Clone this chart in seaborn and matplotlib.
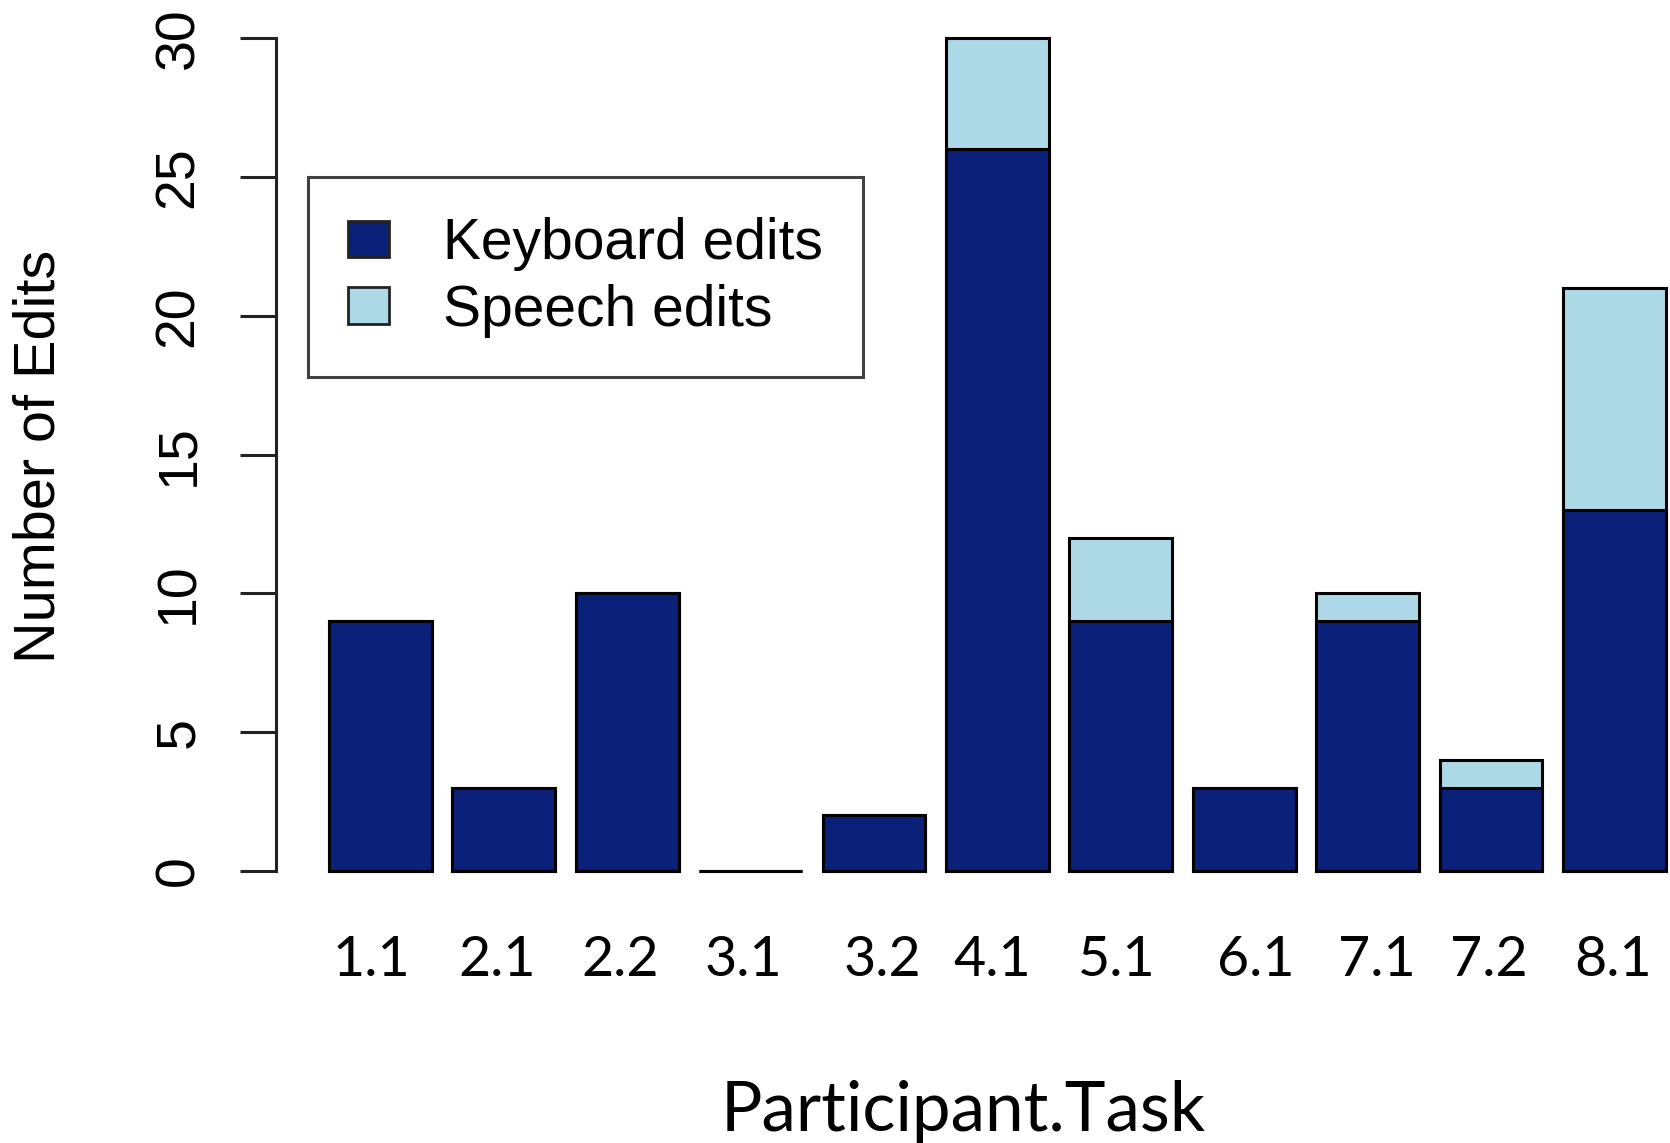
import matplotlib
matplotlib.use('Agg')
import matplotlib.pyplot as plt
import matplotlib.transforms as mtransforms
import pandas as pd
import seaborn as sns
from matplotlib.patches import Patch

sns.set_theme(style="white")
plt.rcParams['font.family'] = ['Liberation Sans', 'DejaVu Sans']
plt.rcParams['text.color'] = 'black'
plt.rcParams['xtick.color'] = 'black'
plt.rcParams['ytick.color'] = 'black'

# data
tasks = ["1.1", "2.1", "2.2", "3.1", "3.2", "4.1", "5.1", "6.1", "7.1", "7.2", "8.1"]
keyboard = [9, 3, 10, 0, 2, 26, 9, 3, 9, 3, 13]
speech = [0, 0, 0, 0, 0, 4, 3, 0, 1, 1, 8]

# the x labels in the original were placed by hand, a little off the bar centres (pixels)
label_shift = [-9, -7, -7, -7, 8, -5, -4, 12, 9, -2, -1]

NAVY = "#0b2079"
LIGHT = "#add8e6"

df = pd.DataFrame({"task": tasks, "keyboard": keyboard, "speech": speech})
df["total"] = df["keyboard"] + df["speech"]

fig = plt.figure(figsize=(16.7, 11.43), dpi=100)
ax = fig.add_axes([0.1653, 0.209, 1.0 - 0.1653, 0.9956 - 0.209])

# stacked: draw totals (speech on top) then keyboard part over them
sns.barplot(data=df, x="task", y="total", order=tasks, color=LIGHT, saturation=1,
            width=0.833, edgecolor="black", linewidth=2.2, ax=ax)
sns.barplot(data=df, x="task", y="keyboard", order=tasks, color=NAVY, saturation=1,
            width=0.833, edgecolor="black", linewidth=2.2, ax=ax)

ax.set_xlim(-0.846, 10.45)
ax.set_ylim(-1.2, 31.2)
for s in ["top", "right", "bottom"]:
    ax.spines[s].set_visible(False)
ax.spines["left"].set_bounds(0, 30)
ax.spines["left"].set_linewidth(2.2)
ax.spines["left"].set_color("#222222")

ax.set_yticks([0, 5, 10, 15, 20, 25, 30])
ax.tick_params(axis="y", left=True, length=26, width=2.2, color="#222222",
               labelsize=40, pad=25)
for lab in ax.get_yticklabels():
    lab.set_rotation(90)
    lab.set_va("center")

ax.tick_params(axis="x", length=0, pad=22)
ax.set_xticks(range(len(tasks)))
ax.set_xticklabels(tasks, fontfamily="Lato", fontsize=40)
for lab, dx in zip(ax.get_xticklabels(), label_shift):
    lab.set_transform(lab.get_transform() +
                      mtransforms.ScaledTranslation(dx / 100, 0, fig.dpi_scale_trans))
ax.set_xlabel("")
ax.set_ylabel("")

fig.text(0.0235, 0.601, "Number of Edits", rotation=90, ha="center", va="center",
         fontsize=41.5)
fig.text(0.577, 0.0105, "Participant.Task", ha="center", va="baseline",
         fontsize=49.8, fontfamily="Lato")

handles = [Patch(facecolor=NAVY, edgecolor="#222222", linewidth=2),
           Patch(facecolor=LIGHT, edgecolor="#222222", linewidth=2)]
leg = ax.legend(handles, ["Keyboard edits", "Speech edits"], loc="upper left",
                bbox_to_anchor=(0.1844, 0.845), bbox_transform=fig.transFigure,
                borderaxespad=0, fontsize=41, frameon=True, fancybox=False,
                borderpad=0.7, handlelength=0.72, handleheight=0.62,
                handletextpad=0.95, labelspacing=0.22)
leg.get_frame().set_edgecolor("#111111")
leg.get_frame().set_linewidth(2.2)

fig.savefig("out.png", dpi=100, facecolor="white")
